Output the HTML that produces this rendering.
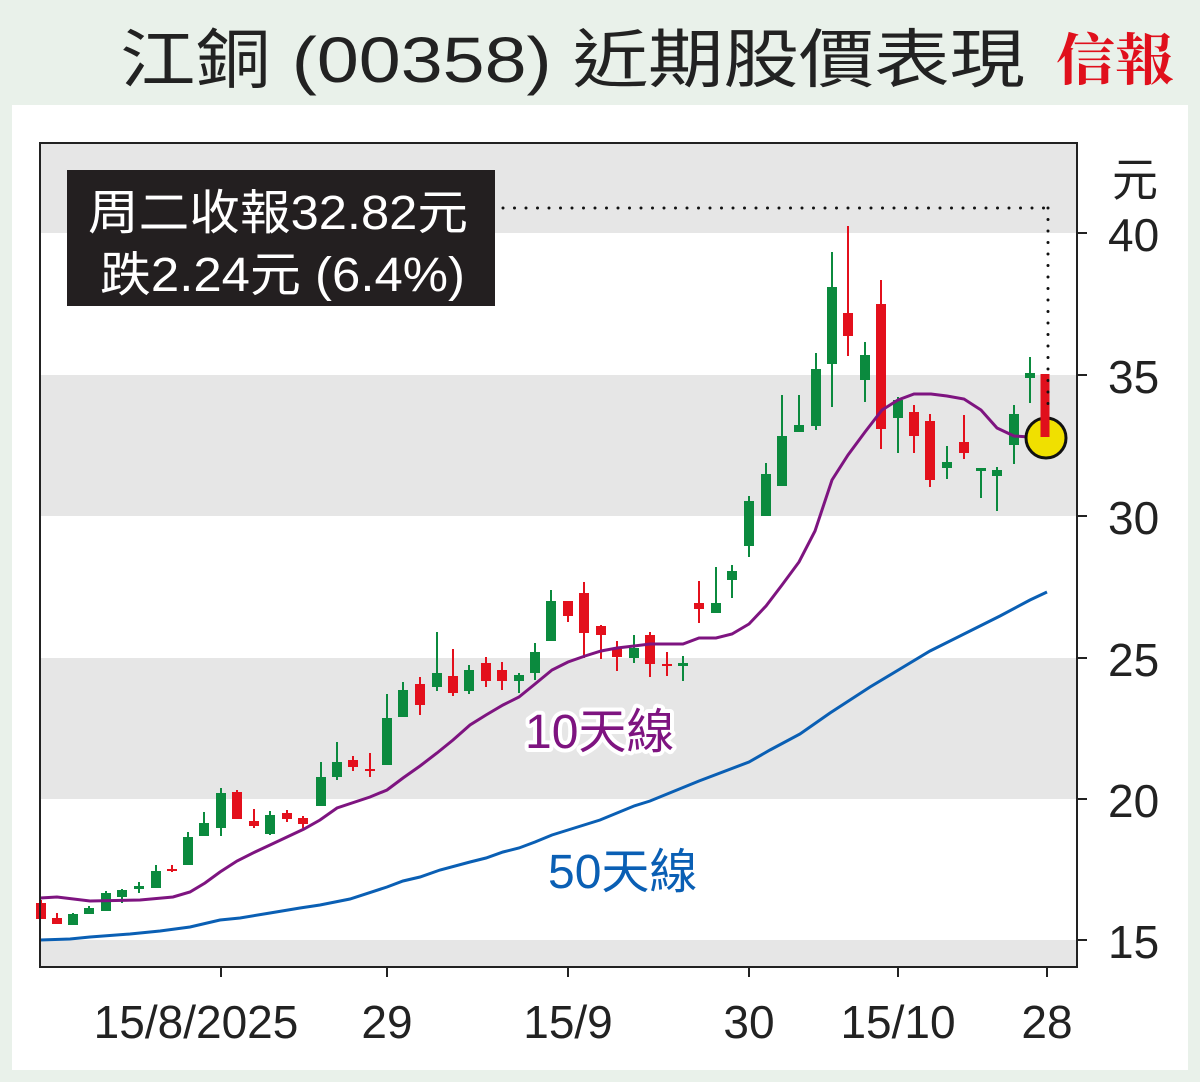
<!DOCTYPE html>
<html><head><meta charset="utf-8"><style>
html,body{margin:0;padding:0;background:#e9f1ea;}
svg{display:block}
</style></head><body>
<svg id="s" width="1200" height="1082" xmlns="http://www.w3.org/2000/svg">
<rect x="0" y="0" width="1200" height="1082" fill="#e9f1ea"/>
<rect x="12" y="105" width="1176" height="965" fill="#fff"/>
<text x="120" y="82" font-family="Liberation Sans, Noto Sans CJK TC, sans-serif" font-size="64" fill="#222" textLength="905" lengthAdjust="spacingAndGlyphs">江銅 (00358) 近期股價表現</text>
<text x="1056" y="80" font-family="Noto Serif CJK SC, serif" font-weight="bold" font-size="56" fill="#e0101c" textLength="118" lengthAdjust="spacingAndGlyphs">信報</text>
<!-- bands -->
<rect x="40" y="143" width="1037" height="90" fill="#e6e6e6"/>
<rect x="40" y="375" width="1037" height="141" fill="#e6e6e6"/>
<rect x="40" y="658" width="1037" height="141" fill="#e6e6e6"/>
<rect x="40" y="940" width="1037" height="27" fill="#e6e6e6"/>
<g id="c"></g>
<polyline fill="none" stroke="#0a5fb4" stroke-width="3" points="40,940 70,939 90,937 130,934 160,931 190,927 220,920 240,918 270,913 300,908 320,905 350,899 387,887 403,881 420,877 440,870 470,862 486,858 503,852 519,848 535,842 552,835 568,830 600,820 634,806 650,801 699,781 749,762 770,750 800,734 830,713 870,687 900,669 930,651 970,631 1000,616 1030,600 1047,592"/>
<polyline fill="none" stroke="#7e1480" stroke-width="3" points="40,898 57,897 90,901 140,900 173,897 190,892 205,883 220,872 237,861 255,852 270,845 287,837 304,829 320,820 337,808 370,797 387,790 403,778 420,766 437,753 453,740 470,725 486,715 503,705 519,697 535,684 552,670 568,662 585,656 601,651 617,648 634,646 650,644 683,644 699,638 716,638 732,634 749,624 766,606 782,585 799,562 815,531 832,480 848,455 865,432 882,410 898,400 914,394 931,394 947,396 964,399 981,410 997,428 1014,436 1030,437 1047,438"/>
<circle cx="1046" cy="438" r="20" fill="#f0e000" stroke="#111" stroke-width="3"/>
<line x1="1045" y1="374" x2="1045" y2="437" stroke="#e0101c" stroke-width="9"/>
<line x1="503" y1="208" x2="1048" y2="208" stroke="#111" stroke-width="3" stroke-dasharray="0 11.5" stroke-linecap="round"/>
<line x1="1048" y1="208" x2="1048" y2="410" stroke="#111" stroke-width="3" stroke-dasharray="0 11.5" stroke-linecap="round"/>
<rect x="67" y="170" width="428" height="136" fill="#231f20"/>
<g font-family="Liberation Sans, Noto Sans CJK TC, sans-serif" font-size="48" fill="#fff">
<text x="88" y="229" textLength="380" lengthAdjust="spacingAndGlyphs">周二收報32.82元</text>
<text x="100" y="291" textLength="365" lengthAdjust="spacingAndGlyphs">跌2.24元 (6.4%)</text>
</g>
<g font-family="Liberation Sans, Noto Sans CJK TC, sans-serif" font-size="48" stroke="#fff" stroke-width="8" stroke-linejoin="round" paint-order="stroke">
<text x="525" y="748" fill="#7e1480">10天線</text>
<text x="548" y="888" fill="#0a5fb4">50天線</text>
</g>
<rect x="40" y="143" width="1037" height="824" fill="none" stroke="#222" stroke-width="2"/>
<g stroke="#222" stroke-width="2">
<line x1="1077" y1="233" x2="1087" y2="233"/><line x1="1077" y1="375" x2="1087" y2="375"/><line x1="1077" y1="516" x2="1087" y2="516"/><line x1="1077" y1="658" x2="1087" y2="658"/><line x1="1077" y1="799" x2="1087" y2="799"/><line x1="1077" y1="940" x2="1087" y2="940"/>
<line x1="221" y1="967" x2="221" y2="977"/><line x1="387" y1="967" x2="387" y2="977"/><line x1="568" y1="967" x2="568" y2="977"/><line x1="749" y1="967" x2="749" y2="977"/><line x1="898" y1="967" x2="898" y2="977"/><line x1="1047" y1="967" x2="1047" y2="977"/>
</g>
<g font-family="Liberation Sans Narrow, Liberation Sans, Noto Sans CJK TC, sans-serif" font-size="46" fill="#222">
<text x="1112" y="196">元</text>
<text x="1108" y="251">40</text><text x="1108" y="393">35</text><text x="1108" y="534">30</text><text x="1108" y="676">25</text><text x="1108" y="817">20</text><text x="1108" y="958">15</text>
<g text-anchor="middle">
<text x="196" y="1038">15/8/2025</text><text x="387" y="1038">29</text><text x="568" y="1038">15/9</text><text x="749" y="1038">30</text><text x="898" y="1038">15/10</text><text x="1047" y="1038">28</text>
</g></g>
</svg>
<script>
var d=[[41,'r',900,903,919,919],[57,'r',913,918,924,924],[73,'g',913,914,925,925],[89,'g',906,908,914,914],[106,'g',891,893,911,911],[122,'g',889,890,897,903],[139,'g',882,886,889,893],[156,'g',865,871,888,888],[172,'r',865,869,871,872],[188,'g',832,837,865,865],[204,'g',812,823,836,836],[221,'g',788,793,828,836],[237,'r',790,792,819,819],[254,'r',809,821,826,828],[270,'g',811,815,834,835],[287,'r',810,813,819,822],[303,'r',816,818,824,828],[321,'g',762,777,806,806],[337,'g',742,762,777,780],[353,'r',756,760,767,771],[370,'r',753,769,771,777],[387,'g',694,718,765,765],[403,'g',682,690,717,717],[420,'r',677,684,705,715],[437,'g',632,673,687,691],[453,'r',649,676,693,696],[469,'g',665,670,691,694],[486,'r',657,663,681,687],[502,'r',662,670,681,690],[519,'g',673,675,681,693],[535,'g',643,652,673,680],[551,'g',590,601,641,641],[568,'r',601,601,616,622],[584,'r',582,593,633,658],[601,'r',625,626,635,659],[617,'r',641,649,657,671],[634,'g',635,648,658,663],[650,'r',632,635,664,677],[667,'r',652,664,666,676],[683,'g',656,663,666,681],[699,'r',581,603,609,623],[716,'g',567,603,613,613],[732,'g',565,571,580,598],[749,'g',496,501,546,557],[766,'g',463,474,516,516],[782,'g',395,436,486,486],[799,'g',395,425,432,432],[816,'g',353,369,426,430],[832,'g',252,287,364,407],[848,'r',226,313,336,356],[865,'g',342,355,380,402],[881,'r',280,304,429,449],[898,'g',397,400,418,453],[914,'r',405,412,436,453],[930,'r',414,421,480,487],[947,'g',446,462,468,479],[964,'r',415,442,453,459],[981,'g',468,468,471,498],[997,'g',467,470,476,511],[1014,'g',405,414,445,464],[1030,'g',357,373,378,403]];
var h='';d.forEach(function(c){var col=c[1]=='r'?'#e3101c':'#0b8a3e';h+='<line x1="'+c[0]+'" y1="'+c[2]+'" x2="'+c[0]+'" y2="'+c[5]+'" stroke="'+col+'" stroke-width="2"/>';h+='<rect x="'+(c[0]-5)+'" y="'+c[3]+'" width="10" height="'+Math.max(2,c[4]-c[3])+'" fill="'+col+'"/>';});
document.getElementById('c').innerHTML=h;
</script>
</body></html>
